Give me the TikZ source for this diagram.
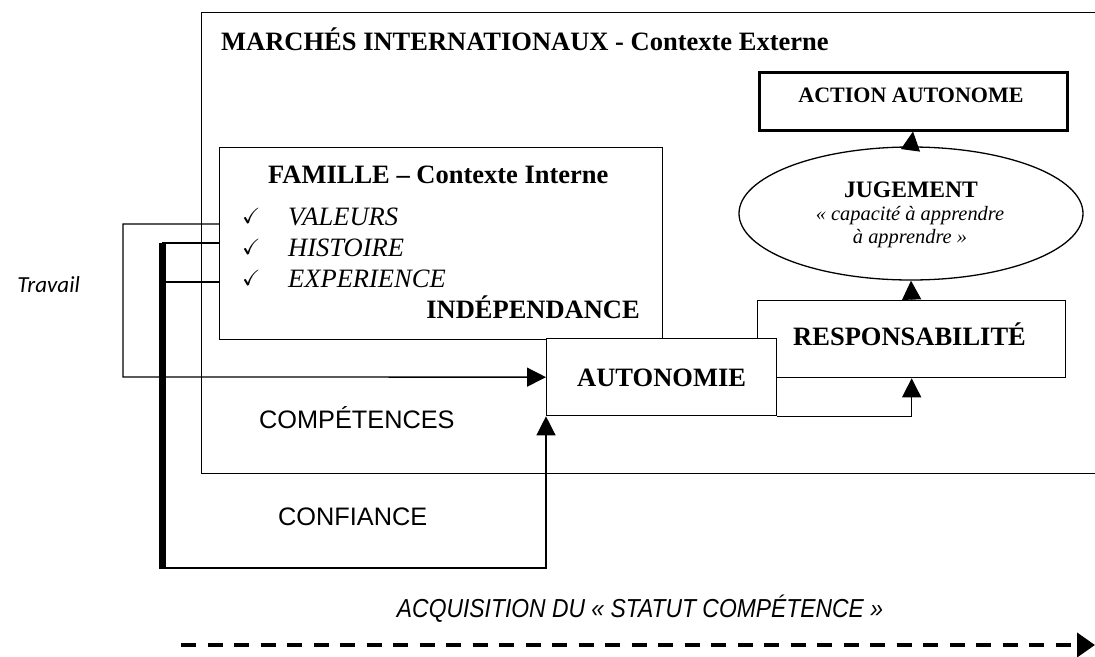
\documentclass[tikz,border=0pt]{standalone}
\usepackage{fontspec}
\usepackage{amssymb}
\setmainfont{Liberation Serif}
\setsansfont{Liberation Sans}
\newfontfamily\travailfont{Carlito}
\usetikzlibrary{arrows.meta,shapes.geometric}
\begin{document}
\begin{tikzpicture}[x=1pt,y=-1pt,
  box/.style={draw,line width=1.3pt,inner sep=0pt,fill=white,anchor=north west},
  conn/.style={line width=1.3pt},
  tip/.style={-{Triangle[length=19pt,width=19pt]}},
  lbl/.style={inner sep=0pt,anchor=base west},
  tb/.style={font=\fontsize{26.5}{30}\selectfont\bfseries},
  ti/.style={font=\fontsize{26.5}{30}\selectfont\itshape},
  sf/.style={font=\fontsize{25.3}{30}\selectfont\sffamily}
]
\useasboundingbox (0,0) rectangle (1095,656);
% boxes
\node[box,minimum width=905pt,minimum height=461pt] (outer) at (201,12) {};
\node[box,minimum width=443pt,minimum height=192pt] (fam) at (219,147) {};
\node[box,minimum width=308pt,minimum height=77pt] (resp) at (757,300) {};
\node[box,minimum width=230pt,minimum height=77pt] (auto) at (546,338) {};
\node[draw,line width=1.3pt,ellipse,inner sep=0pt,minimum width=344pt,minimum height=133pt] (jug) at (911,213.5) {};
\node[box,line width=3pt,minimum width=308pt,minimum height=58pt] (act) at (757.5,70.5) {};
% texts
\node[lbl,tb] (tmarch) at (221,50) {MARCHÉS INTERNATIONAUX - Contexte Externe};
\node[lbl,tb] (tfam) at (268,183) {FAMILLE – Contexte Interne};
\node[lbl,font=\fontsize{22}{24}\selectfont] (c1) at (242,223) {$\checkmark$};
\node[lbl,font=\fontsize{22}{24}\selectfont] (c2) at (242,254) {$\checkmark$};
\node[lbl,font=\fontsize{22}{24}\selectfont] (c3) at (242,285) {$\checkmark$};
\node[lbl,ti] (tval) at (288,225) {VALEURS};
\node[lbl,ti] (thist) at (288,256) {HISTOIRE};
\node[lbl,ti] (texp) at (288,287) {EXPERIENCE};
\node[inner sep=0pt,anchor=base east,tb] (tind) at (640,318) {INDÉPENDANCE};
\node[lbl,tb] (tauto) at (577,386) {AUTONOMIE};
\node[lbl,tb] (tresp) at (793,345) {RESPONSABILITÉ};
\node[inner sep=0pt,anchor=base,font=\fontsize{22}{24}\selectfont\bfseries] (tact) at (911,102) {ACTION AUTONOME};
\node[inner sep=0pt,anchor=base,font=\fontsize{23.6}{26}\selectfont\bfseries] (tjug) at (911,197) {JUGEMENT};
\node[inner sep=0pt,anchor=base,font=\fontsize{20.4}{24}\selectfont\itshape] (tcap1) at (910,220) {« capacité à apprendre};
\node[inner sep=0pt,anchor=base,font=\fontsize{20.4}{24}\selectfont\itshape] (tcap2) at (910,243) {à apprendre »};
\node[lbl,sf] (tcomp) at (259,428) {COMPÉTENCES};
\node[lbl,sf] (tconf) at (278,525) {CONFIANCE};
\node[inner sep=0pt,anchor=base,font=\fontsize{26}{30}\selectfont\sffamily\itshape,xscale=0.88] (tacq) at (640,617) {ACQUISITION DU « STATUT COMPÉTENCE »};
\node[inner sep=0pt,anchor=base east,font=\fontsize{23}{26}\selectfont\travailfont\itshape] (ttrav) at (80,292) {Travail};
% connector coordinates
\coordinate (a0) at (fam.west |- {(0,224)});
\coordinate (a1) at (123,224);
\coordinate (a2) at (123,377);
\coordinate (b0) at (fam.west |- {(0,243)});
\coordinate (b1) at (162,243);
\coordinate (b2) at (162,568);
\coordinate (b3) at (162,569);
\coordinate (c0) at (fam.west |- {(0,282)});
\coordinate (c1e) at (165,282);
\coordinate (d1) at (181,645);
\coordinate (d2) at (1095,645);
% connectors
\draw[conn,tip] (a0) -- (a1) -- (a2) -- (auto.west);
\draw[conn] (b0) -- (b1);
\draw[conn] (c0) -- (c1e);
\draw[conn,tip] (b2) -| (auto.south west);
\draw[line width=7pt] (b1) -- (b3);
\draw[conn,tip] (auto.south east) -| (resp.south);
\draw[conn,tip] (resp.north) -- (jug.south);
\draw[conn,tip] (jug.north) -- (act.south);
\draw[line width=4pt,dash pattern=on 15pt off 11.5pt,-{Triangle[length=18pt,width=24pt]}] (d1) -- (d2);
\end{tikzpicture}
\end{document}
